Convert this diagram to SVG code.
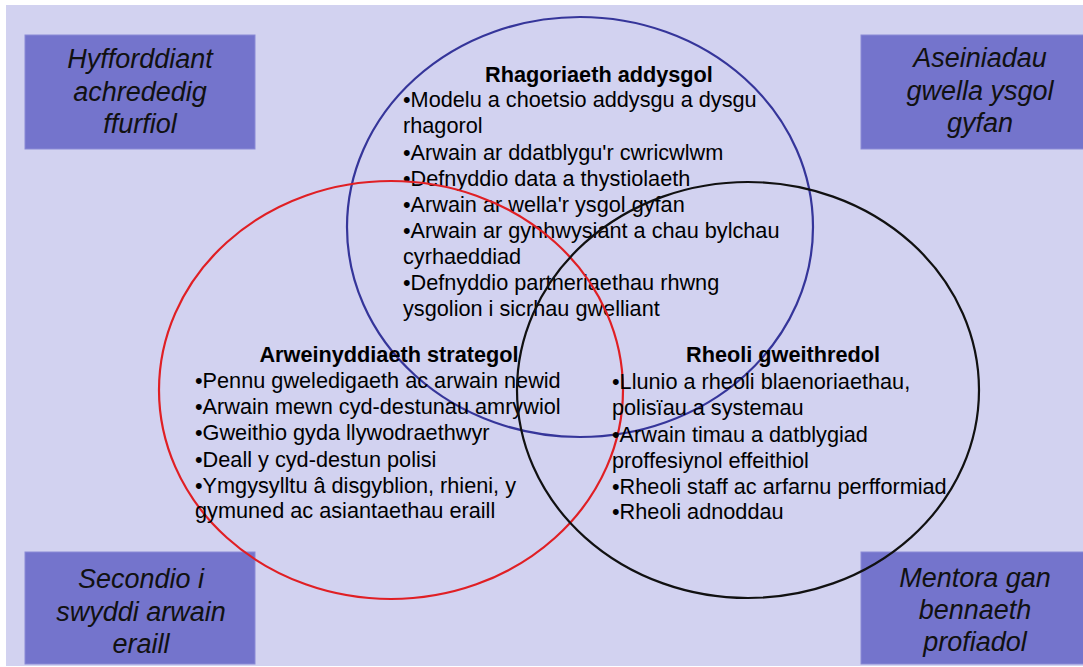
<svg xmlns="http://www.w3.org/2000/svg" width="1083" height="667" viewBox="0 0 1083 667">
  <style>
    .bg { fill: #d2d2f0; }
    .box { fill: #7474cc; stroke: #8a8ad6; stroke-width: 1; }
    .boxtxt { font-family: "Liberation Sans", Arial, sans-serif; font-style: italic; font-size: 27px; fill: #111; text-anchor: middle; }
    .ring { fill: none; stroke-width: 2.2; }
    .title { font-family: "Liberation Sans", Arial, sans-serif; font-weight: bold; font-size: 21.7px; fill: #000; text-anchor: middle; }
    .item { font-family: "Liberation Sans", Arial, sans-serif; font-size: 21.7px; fill: #000; }
  </style>

  <rect width="1083" height="667" fill="#ffffff"/>
  <rect class="bg" x="6" y="5" width="1077" height="661"/>

  <!-- corner boxes -->
  <g id="box-hyfforddiant">
    <rect class="box" x="25" y="35" width="230" height="114"/>
    <text class="boxtxt" x="140" y="68">Hyfforddiant</text>
    <text class="boxtxt" x="140" y="100.5">achrededig</text>
    <text class="boxtxt" x="140" y="133">ffurfiol</text>
  </g>
  <g id="box-aseiniadau">
    <rect class="box" x="861" y="35" width="230" height="114"/>
    <text class="boxtxt" x="980" y="67">Aseiniadau</text>
    <text class="boxtxt" x="980" y="99.5">gwella ysgol</text>
    <text class="boxtxt" x="980" y="132">gyfan</text>
  </g>
  <g id="box-secondio">
    <rect class="box" x="25" y="552" width="230" height="112"/>
    <text class="boxtxt" x="141" y="588">Secondio i</text>
    <text class="boxtxt" x="141" y="620.5">swyddi arwain</text>
    <text class="boxtxt" x="141" y="653">eraill</text>
  </g>
  <g id="box-mentora">
    <rect class="box" x="861" y="552" width="230" height="112"/>
    <text class="boxtxt" x="975" y="587">Mentora gan</text>
    <text class="boxtxt" x="975" y="619">bennaeth</text>
    <text class="boxtxt" x="975" y="651">profiadol</text>
  </g>

  <!-- three overlapping sets -->
  <g id="set-rhagoriaeth">
    <ellipse class="ring" cx="580" cy="227" rx="233" ry="210" stroke="#35359a"/>
    <text class="title" x="599" y="82">Rhagoriaeth addysgol</text>
    <text class="item" x="403" y="107">•Modelu a choetsio addysgu a dysgu</text>
    <text class="item" x="403" y="133">rhagorol</text>
    <text class="item" x="403" y="159.5">•Arwain ar ddatblygu'r cwricwlwm</text>
    <text class="item" x="403" y="185.5">•Defnyddio data a thystiolaeth</text>
    <text class="item" x="403" y="211.5">•Arwain ar wella'r ysgol gyfan</text>
    <text class="item" x="403" y="237.5">•Arwain ar gynhwysiant a chau bylchau</text>
    <text class="item" x="403" y="263.5">cyrhaeddiad</text>
    <text class="item" x="403" y="290">•Defnyddio partneriaethau rhwng</text>
    <text class="item" x="403" y="316">ysgolion i sicrhau gwelliant</text>
  </g>

  <g id="set-arweinyddiaeth">
    <ellipse class="ring" cx="391" cy="390" rx="232" ry="209" stroke="#e01f24"/>
    <text class="title" x="389" y="362">Arweinyddiaeth strategol</text>
    <text class="item" x="195" y="388">•Pennu gweledigaeth ac arwain newid</text>
    <text class="item" x="195" y="414">•Arwain mewn cyd-destunau amrywiol</text>
    <text class="item" x="195" y="440">•Gweithio gyda llywodraethwyr</text>
    <text class="item" x="195" y="466.5">•Deall y cyd-destun polisi</text>
    <text class="item" x="195" y="492.5">•Ymgysylltu â disgyblion, rhieni, y</text>
    <text class="item" x="195" y="518">gymuned ac asiantaethau eraill</text>
  </g>

  <g id="set-rheoli">
    <ellipse class="ring" cx="748" cy="390" rx="231" ry="208" stroke="#111111"/>
    <text class="title" x="783" y="362">Rheoli gweithredol</text>
    <text class="item" x="612" y="389">•Llunio a rheoli blaenoriaethau,</text>
    <text class="item" x="612" y="415">polisïau a systemau</text>
    <text class="item" x="612" y="441.5">•Arwain timau a datblygiad</text>
    <text class="item" x="612" y="467.5">proffesiynol effeithiol</text>
    <text class="item" x="612" y="493.5">•Rheoli staff ac arfarnu perfformiad</text>
    <text class="item" x="612" y="519">•Rheoli adnoddau</text>
  </g>
</svg>
